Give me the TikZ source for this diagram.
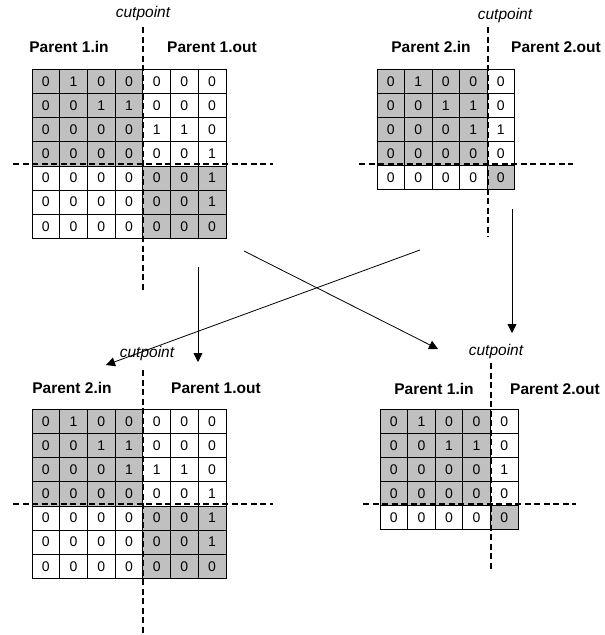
\documentclass[tikz,border=0pt]{standalone}
\usepackage{fontspec}
\setmainfont{Liberation Sans}
\usetikzlibrary{arrows.meta}
\definecolor{cellgray}{RGB}{192,192,192}
\tikzset{
  cell/.style={draw=black, line width=0.7pt, inner sep=0pt, font=\fontsize{14}{16}\selectfont},
  lbl/.style={font=\bfseries\fontsize{15.5}{18}\selectfont, inner sep=0pt},
  cutlbl/.style={font=\itshape\fontsize{15.5}{18}\selectfont, inner sep=0pt},
  cutline/.style={line width=2.4pt, dash pattern=on 6pt off 3.5pt},
  arr/.style={line width=0.8pt, -{Triangle[length=9pt,width=9pt]}}
}
\newcommand\drawgrid[6]{%
  \foreach \rowvals [count=\r] in {#6} {
    \foreach \v [count=\c] in \rowvals {
      \pgfmathtruncatemacro\sh{((\r<5)&&(\c<5))||((\r>4)&&(\c>4))}
      \ifnum\sh=1 \def\fc{cellgray}\else\def\fc{white}\fi
      \node[cell, fill=\fc, minimum width=#4pt, minimum height=#5pt]
        (#1-\r-\c) at ({#2+(\c-0.5)*#4},{#3+(\r-0.5)*#5}) {\v};
    }
  }
}
\begin{document}
\begin{tikzpicture}[x=1pt,y=-1pt]
\useasboundingbox (0,0) rectangle (605,635);
\fill[white] (0,0) rectangle (605,635);

% Grid 1
\drawgrid{ga}{32}{69.3}{27.7}{24.14}{{0,1,0,0,0,0,0},{0,0,1,1,0,0,0},{0,0,0,0,1,1,0},{0,0,0,0,0,0,1},{0,0,0,0,0,0,1},{0,0,0,0,0,0,1},{0,0,0,0,0,0,0}}
% Grid 2
\drawgrid{gb}{377}{69.3}{27.5}{24}{{0,1,0,0,0},{0,0,1,1,0},{0,0,0,1,1},{0,0,0,0,0},{0,0,0,0,0}}
% Grid 3
\drawgrid{gc}{32}{409.3}{27.7}{24.14}{{0,1,0,0,0,0,0},{0,0,1,1,0,0,0},{0,0,0,1,1,1,0},{0,0,0,0,0,0,1},{0,0,0,0,0,0,1},{0,0,0,0,0,0,1},{0,0,0,0,0,0,0}}
% Grid 4
\drawgrid{gd}{380}{409.3}{27.6}{24}{{0,1,0,0,0},{0,0,1,1,0},{0,0,0,0,1},{0,0,0,0,0},{0,0,0,0,0}}

% Labels
\node[cutlbl] (cpa) at (143,13) {cutpoint};
\node[lbl] (pa1) at (69,47) {Parent 1.in};
\node[lbl] (pa2) at (212,47) {Parent 1.out};

\node[cutlbl] (cpb) at (505,15) {cutpoint};
\node[lbl] (pb1) at (431,47) {Parent 2.in};
\node[lbl] (pb2) at (556,47) {Parent 2.out};

\node[cutlbl] (cpc) at (147,353) {cutpoint};
\node[lbl] (pc1) at (72,388) {Parent 2.in};
\node[lbl] (pc2) at (216,388) {Parent 1.out};

\node[cutlbl] (cpd) at (496,351) {cutpoint};
\node[lbl] (pd1) at (434,389) {Parent 1.in};
\node[lbl] (pd2) at (555,389) {Parent 2.out};

% Cut lines
\coordinate (av1) at (143,27);  \coordinate (av2) at (143,293);
\coordinate (ah1) at (13,164);  \coordinate (ah2) at (273,164);
\coordinate (bv1) at (488,27);  \coordinate (bv2) at (488,237);
\coordinate (bh1) at (359,164); \coordinate (bh2) at (573,164);
\coordinate (cv1) at (143,370); \coordinate (cv2) at (143,633);
\coordinate (ch1) at (13,504);  \coordinate (ch2) at (273,504);
\coordinate (dv1) at (491,363); \coordinate (dv2) at (491,572);
\coordinate (dh1) at (363,504); \coordinate (dh2) at (576,504);
\foreach \p in {a,b,c,d} {
  \draw[cutline] (\p v1) -- (\p v2);
  \draw[cutline] (\p h1) -- (\p h2);
}

% Arrows
\coordinate (s1) at (198,267);  \coordinate (e1) at (198,362);
\coordinate (s2) at (420,250);  \coordinate (e2) at (106,365);
\coordinate (s3) at (244,251);  \coordinate (e3) at (438,349);
\coordinate (s4) at (512,209);  \coordinate (e4) at (512,333);
\draw[arr] (s1) -- (e1);
\draw[arr] (s2) -- (e2);
\draw[arr] (s3) -- (e3);
\draw[arr] (s4) -- (e4);
\end{tikzpicture}
\end{document}
